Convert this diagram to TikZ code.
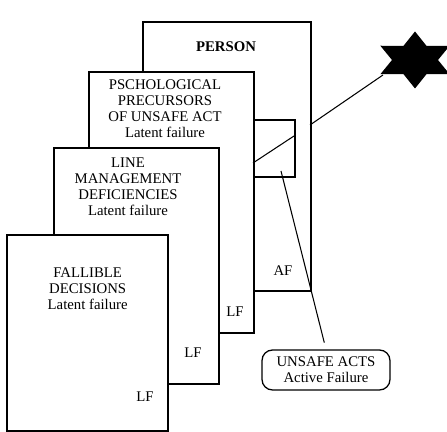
\documentclass[tikz,border=0pt]{standalone}
\usepackage{fontspec}
\setmainfont{Liberation Serif}
\usepackage{tikz}
\usetikzlibrary{positioning,calc}
\tikzset{
  layer/.style={draw,fill=white,line width=1.3pt,anchor=north west,inner sep=0pt},
  lbl/.style={font=\fontsize{12.6}{13.6}\selectfont,align=center,inner sep=0pt},
  ray/.style={line width=0.9pt},
  callout/.style={draw,rounded corners=9pt,line width=1.1pt,minimum width=3.84cm,minimum height=1.2cm,align=center,font=\fontsize{12.6}{13.6}\selectfont,inner sep=0pt},
}
\begin{document}
\begin{tikzpicture}
\useasboundingbox (0,0) rectangle (13.41,12.96);
% stacked layers, back to front
\node[layer,minimum width=5.04cm,minimum height=8.07cm] (person) at (4.26,12.33) {};
\node[layer,minimum width=1.23cm,minimum height=1.71cm] (act) at (7.59,9.39) {};
\node[layer,minimum width=4.95cm,minimum height=7.83cm] (psych) at (2.64,10.83) {};
\node[layer,minimum width=4.95cm,minimum height=7.08cm] (mgmt) at (1.59,8.55) {};
\node[layer,minimum width=4.83cm,minimum height=5.88cm] (fall) at (0.18,5.94) {};
% texts
\node[lbl,font=\fontsize{12.6}{13.6}\selectfont\bfseries,anchor=base] (tperson) at (6.78,11.40) {PERSON};
\node[lbl] (tpsych) at (4.95,9.69) {PSCHOLOGICAL\\PRECURSORS\\OF UNSAFE ACT\\Latent failure};
\node[lbl] (tmgmt) at (3.84,7.35) {LINE\\MANAGEMENT\\DEFICIENCIES\\Latent failure};
\node[lbl] (tfall) at (2.63,4.30) {FALLIBLE\\DECISIONS\\Latent failure};
\node[lbl] (lf1) at (7.05,3.60) {LF};
\node[lbl] (lf2) at (5.79,2.37) {LF};
\node[lbl] (lf3) at (4.35,1.05) {LF};
\node[lbl] (af) at (8.49,4.83) {AF};
\node[callout] (ua) at (9.78,1.86) {UNSAFE ACTS\\Active Failure};
% the accident ray and the star
\coordinate (rayin) at (7.59,8.07);
\coordinate (rayout) at (8.82,8.88);
\coordinate (hit) at (9.30,9.21);
\coordinate (startip) at (11.49,10.71);
\coordinate (actpt) at (8.43,7.83);
\coordinate (star) at (12.45,11.16);
\draw[ray] (rayin) -- (rayout);
\draw[ray] (hit) -- (startip);
\draw[ray,shorten <=0.21cm] (ua.north) -- (actpt);
\fill[shift={(star)}] (90:1.2cm and 0.855cm)
  \foreach \a in {120,180,...,420} {-- (\a:0.69cm and 0.49cm) -- (\a+30:1.2cm and 0.855cm)} -- cycle;
\end{tikzpicture}
\end{document}
